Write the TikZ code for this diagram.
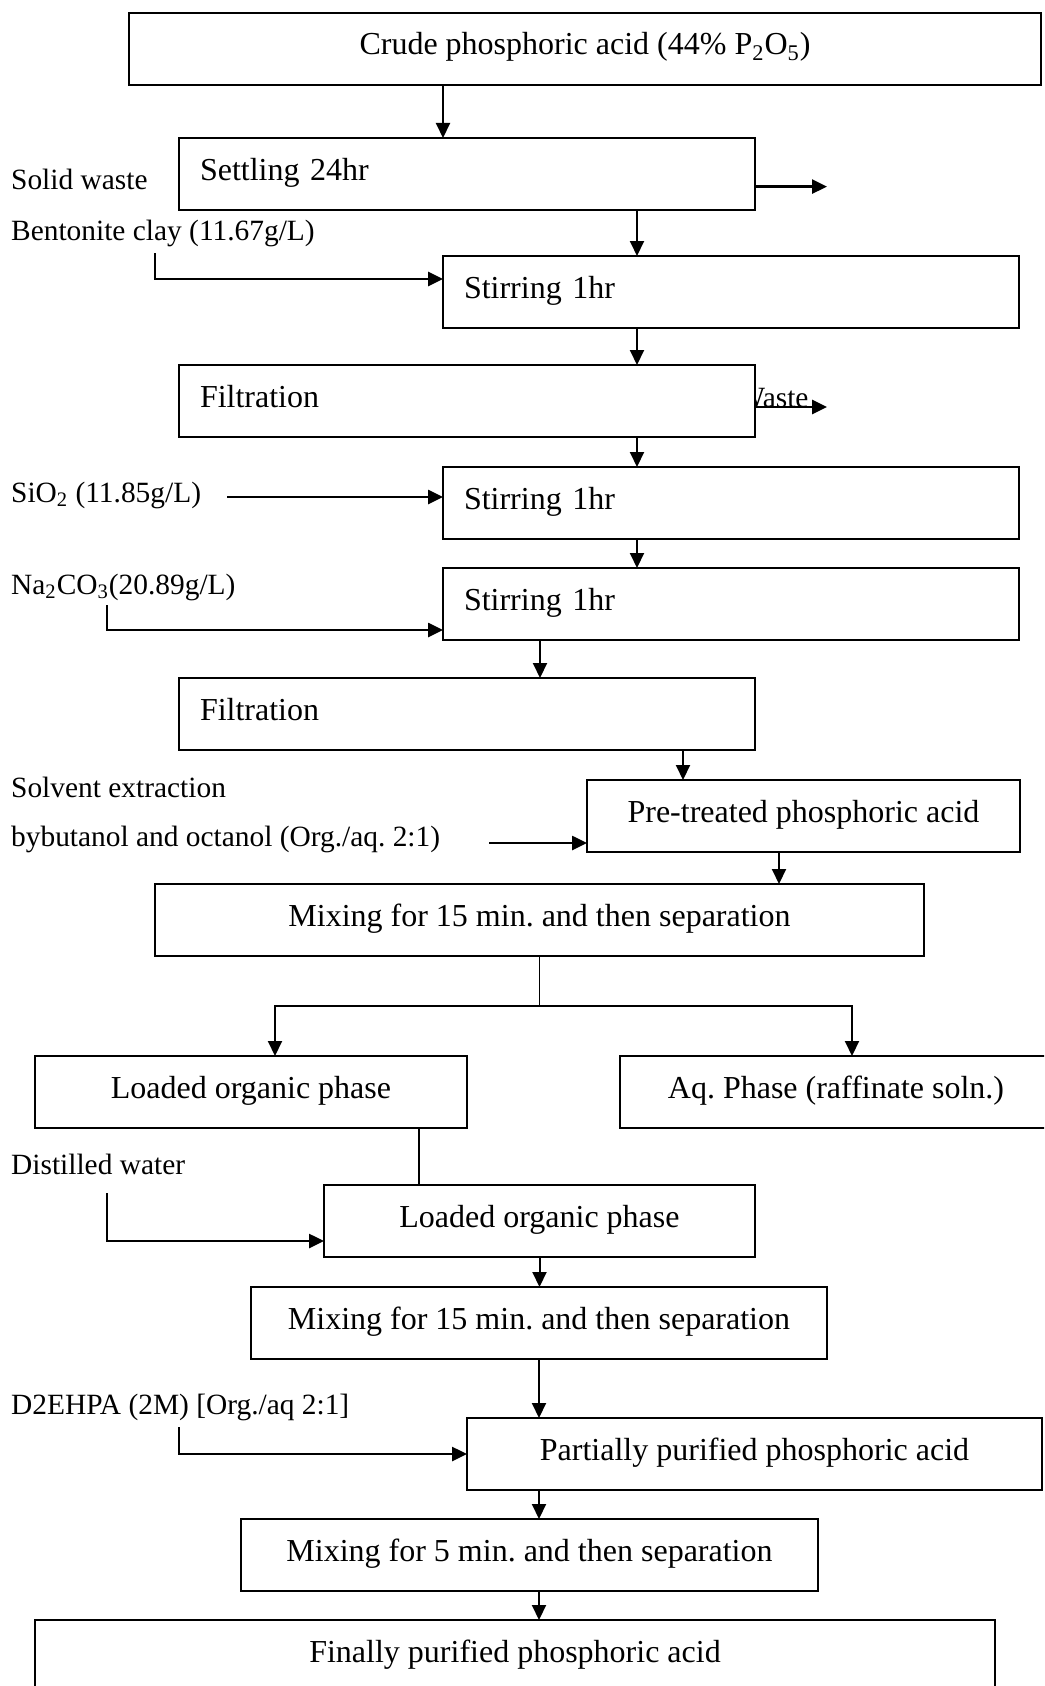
\documentclass[tikz,border=0pt]{standalone}
\usepackage{fontspec}
\setmainfont{Liberation Serif}
\usetikzlibrary{positioning, arrows.meta}
\frenchspacing

\begin{document}
\begin{tikzpicture}[
    x=1pt, y=-1pt,
    box/.style={draw=black, line width=0.8pt, rectangle, fill=white, anchor=north west, inner sep=0pt, outer sep=0pt, minimum height=36pt, text height=11pt, text depth=5pt, font=\fontsize{16}{19}\selectfont},
    leftbox/.style={box, align=left, text width=267pt, inner xsep=10.5pt},
    sidetext/.style={anchor=base west, inner sep=0pt, font=\fontsize{14.7}{17.5}\selectfont},
    arr/.style={-{Triangle[length=7.5pt, width=7pt]}, line width=1pt},
    feed/.style={-{Triangle[length=7.5pt, width=7pt]}, line width=1.3pt},
    link/.style={line width=0.8pt}
]
\useasboundingbox (0,0) rectangle (522,843);
\clip (0,0) rectangle (522,843);

% Beschriftungen
\node[sidetext] (solid) at (5.4,94.5) {Solid waste};
\node[sidetext] (bent) at (5.4,120) {Bentonite clay (11.67g/L)};
\node[sidetext] (waste) at (368.5,203.5) {Waste};
\node[sidetext] (sio) at (5.4,251.3) {SiO\textsubscript{2} (11.85g/L)};
\node[sidetext] (naco) at (5.4,297) {Na\textsubscript{2}CO\textsubscript{3}(20.89g/L)};
\node[sidetext] (solv) at (5.4,398.5) {Solvent extraction};
\node[sidetext] (solvb) at (5.4,423) {bybutanol and octanol (Org./aq. 2:1)};
\node[sidetext] (water) at (5.4,587) {Distilled water};
\node[sidetext] (dehpa) at (5.4,707) {D2EHPA (2M) [Org./aq 2:1]};

% Knoten
\node[box, minimum width=456pt] (crude) at (64.5,6.5) {Crude phosphoric acid (44\% P\textsubscript{2}O\textsubscript{5})};
\node[leftbox, below right=26.5pt and 25pt of crude.south west] (settle) {Settling 24hr};
\node[leftbox, below right=23pt and 132pt of settle.south west] (stir1) {Stirring 1hr};
\node[leftbox, below right=18.5pt and -132pt of stir1.south west] (filt1) {Filtration};
\node[leftbox, below right=15pt and 132pt of filt1.south west] (stir2) {Stirring 1hr};
\node[leftbox, below right=14.5pt and 0pt of stir2.south west] (stir3) {Stirring 1hr};
\node[leftbox, below right=19pt and -132pt of stir3.south west] (filt2) {Filtration};
\node[box, minimum width=216.5pt, below right=15pt and 204pt of filt2.south west] (pretr) {Pre-treated phosphoric acid};
\node[box, minimum width=384.5pt, below right=16pt and -216pt of pretr.south west] (mix1) {Mixing for 15 min. and then separation};
\node[box, minimum width=216pt, below right=50pt and -60pt of mix1.south west] (org1) {Loaded organic phase};
\node[box, minimum width=216pt, below right=0pt and 76.5pt of org1.north east] (aq) {Aq. Phase (raffinate soln.)};
\node[box, minimum width=215.5pt, below right=28.5pt and 144.5pt of org1.south west] (org2) {Loaded organic phase};
\node[box, minimum width=288pt, below right=15pt and -36.5pt of org2.south west] (mix2) {Mixing for 15 min. and then separation};
\node[box, minimum width=287.5pt, below right=29.5pt and 108pt of mix2.south west] (part) {Partially purified phosphoric acid};
\node[box, minimum width=288.5pt, below right=14.5pt and -113pt of part.south west] (mix3) {Mixing for 5 min. and then separation};
\node[box, minimum width=480pt, below right=14.5pt and -103pt of mix3.south west] (final) {Finally purified phosphoric acid};

% Kanten zwischen Knoten
\draw[arr] ([xshift=132pt]settle.north west |- crude.south) -- ([xshift=132pt]settle.north west);
\draw[arr] ([xshift=97pt]stir1.north west |- settle.south) -- ([xshift=97pt]stir1.north west);
\draw[arr] ([xshift=97pt]stir1.south west) -- ([xshift=97pt]stir1.south west |- filt1.north);
\draw[arr] ([xshift=97pt]stir2.north west |- filt1.south) -- ([xshift=97pt]stir2.north west);
\draw[arr] ([xshift=97pt]stir2.south west) -- ([xshift=97pt]stir3.north west);
\draw[arr] ([xshift=48.5pt]stir3.south west) -- ([xshift=48.5pt]stir3.south west |- filt2.north);
\draw[arr] ([xshift=48pt]pretr.north west |- filt2.south) -- ([xshift=48pt]pretr.north west);
\draw[arr] ([xshift=96pt]pretr.south west) -- ([xshift=96pt]pretr.south west |- mix1.north);
\draw[link] (mix1.south) -- ([yshift=-25pt]mix1.south) coordinate (split);
\draw[arr] (split) -| ([xshift=120pt]org1.north west);
\draw[arr] (split) -| ([xshift=116pt]aq.north west);
\draw[link] ([xshift=47.5pt]org2.north west |- org1.south) -- ([xshift=47.5pt]org2.north west);
\draw[arr] (org2.south) -- (org2.south |- mix2.north);
\draw[arr] (mix2.south) -- (mix2.south |- part.north);
\draw[arr] (mix2.south |- part.south) -- (mix2.south |- mix3.north);
\draw[arr] (mix2.south |- mix3.south) -- (mix2.south |- final.north);

% Zu- und Ablaeufe
\coordinate (solidend) at (413.5,93.3);
\coordinate (wasteend) at (413.5,203.5);
\coordinate (bentin) at (77.5,126.5);
\coordinate (sioin) at (113.5,248.5);
\coordinate (nacoin) at (53.5,302.5);
\coordinate (solvin) at (244.5,421.5);
\coordinate (waterin) at (53.5,596.5);
\coordinate (dehpain) at (89.5,713.5);
\draw[feed] (settle.east |- solidend) -- (solidend);
\draw[feed] (filt1.east |- wasteend) -- (wasteend);
\draw[feed] (bentin) |- ([yshift=6.5pt]stir1.west);
\draw[feed] (sioin) -- (stir2.west |- sioin);
\draw[feed] (nacoin) |- ([yshift=-13pt]stir3.west);
\draw[feed] (solvin) -- (pretr.west |- solvin);
\draw[feed] (waterin) |- ([yshift=-10pt]org2.west);
\draw[feed] (dehpain) |- (part.west);

\end{tikzpicture}
\end{document}
